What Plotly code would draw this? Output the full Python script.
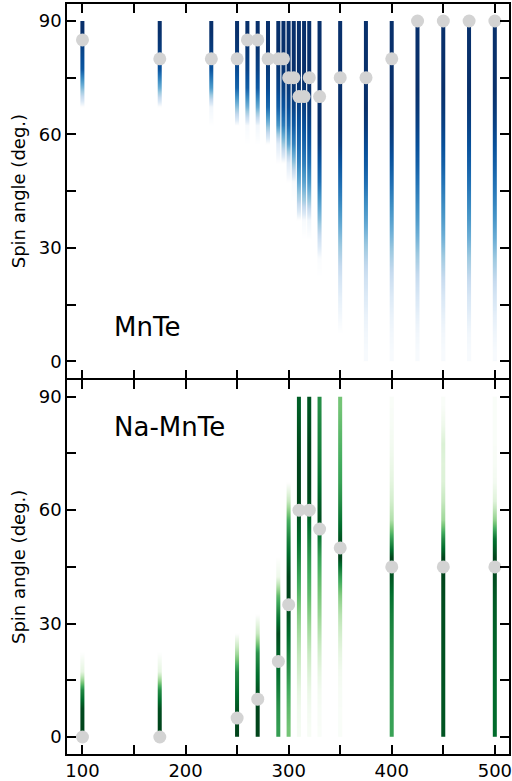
import plotly.graph_objects as go
from plotly.subplots import make_subplots

# Spin-angle bins (degrees): 18 bins of 5 deg between 0 and 90
angle_edges = list(range(0, 95, 5))

# ---- MnTe -------------------------------------------------------------
mnte_temps = [100, 175, 225, 250, 260, 270, 280, 290, 295, 300, 305,
              310, 315, 320, 330, 350, 375, 400, 425, 450, 475, 500]
mnte_mean_angle = [85, 80, 80, 80, 85, 85, 80, 80, 80, 75, 75,
                   70, 70, 75, 70, 75, 75, 80, 90, 90, 90, 90]
# relative probability per angle bin (bins ordered 0 -> 90 deg), one row per temperature
mnte_density = [
    [0]*13 + [0.00, 0.45, 0.85, 0.92, 1.00],                                  # 100 K
    [0]*13 + [0.00, 0.50, 0.87, 0.95, 1.00],                                  # 175 K
    [0]*13 + [0.05, 0.58, 0.87, 0.95, 1.00],                                  # 225 K
    [0]*12 + [0.00, 0.42, 0.80, 0.90, 0.97, 1.00],                            # 250 K
    [0]*12 + [0.03, 0.48, 0.82, 0.92, 0.97, 1.00],                            # 260 K
    [0]*12 + [0.05, 0.52, 0.84, 0.93, 0.98, 1.00],                            # 270 K
    [0]*11 + [0.00, 0.42, 0.78, 0.90, 0.96, 1.00, 1.00],                      # 280 K
    [0]*10 + [0.00, 0.12, 0.60, 0.82, 0.92, 0.97, 1.00, 1.00],                # 290 K
    [0]*10 + [0.00, 0.38, 0.70, 0.86, 0.94, 0.98, 1.00, 1.00],                # 295 K
    [0]*9 + [0.00, 0.12, 0.55, 0.78, 0.90, 0.96, 1.00, 1.00, 1.00],           # 300 K
    [0]*9 + [0.03, 0.40, 0.68, 0.84, 0.93, 0.98, 1.00, 1.00, 1.00],           # 305 K
    [0]*7 + [0.00, 0.30, 0.52, 0.68, 0.78, 0.86, 0.93, 0.98, 1.00, 1.00, 1.00],  # 310 K
    [0]*7 + [0.03, 0.35, 0.55, 0.70, 0.80, 0.88, 0.94, 0.98, 1.00, 1.00, 1.00],  # 315 K
    [0]*6 + [0.00, 0.06, 0.38, 0.60, 0.75, 0.85, 0.92, 0.97, 1.00, 1.00, 1.00, 1.00],  # 320 K
    [0]*5 + [0.02, 0.20, 0.42, 0.58, 0.75, 0.85, 0.95, 1.00, 1.00, 1.00, 1.00, 1.00, 1.00],  # 330 K
    [0.00, 0.00, 0.05, 0.10, 0.18, 0.30, 0.42, 0.55, 0.67, 0.77, 0.86, 0.95, 1, 1, 1, 1, 1, 1],  # 350 K
    [0.03, 0.05, 0.08, 0.13, 0.20, 0.30, 0.42, 0.55, 0.65, 0.76, 0.84, 0.90, 0.96, 1, 1, 1, 1, 1],  # 375 K
    [0.03, 0.05, 0.08, 0.13, 0.22, 0.33, 0.45, 0.56, 0.66, 0.76, 0.85, 0.92, 0.97, 1, 1, 1, 1, 1],  # 400 K
    [0.03, 0.05, 0.09, 0.15, 0.24, 0.35, 0.47, 0.58, 0.66, 0.74, 0.82, 0.88, 0.93, 0.97, 1, 1, 1, 1],  # 425 K
    [0.03, 0.05, 0.09, 0.15, 0.25, 0.36, 0.48, 0.58, 0.66, 0.74, 0.82, 0.88, 0.93, 0.97, 1, 1, 1, 1],  # 450 K
    [0.03, 0.05, 0.10, 0.16, 0.26, 0.37, 0.49, 0.59, 0.67, 0.75, 0.82, 0.88, 0.93, 0.97, 1, 1, 1, 1],  # 475 K
    [0.03, 0.06, 0.10, 0.17, 0.27, 0.38, 0.50, 0.60, 0.68, 0.75, 0.82, 0.88, 0.93, 0.97, 1, 1, 1, 1],  # 500 K
]

# ---- Na-doped MnTe ----------------------------------------------------
namnte_temps = [100, 175, 250, 270, 290, 300, 310, 320, 330, 350, 400, 450, 500]
namnte_mean_angle = [0, 0, 5, 10, 20, 35, 60, 60, 55, 50, 45, 45, 45]
namnte_density = [
    [1.00, 0.98, 0.76, 0.12] + [0]*14,                                        # 100 K
    [1.00, 0.97, 0.74, 0.12] + [0]*14,                                        # 175 K
    [1.00, 0.95, 0.85, 0.75, 0.35, 0.00] + [0]*12,                            # 250 K
    [1.00, 1.00, 0.95, 0.85, 0.72, 0.25, 0.00] + [0]*11,                      # 270 K
    [0.68, 0.72, 0.80, 0.87, 0.92, 0.98, 0.80, 0.55, 0.08, 0.00] + [0]*8,     # 290 K
    [0.50, 0.55, 0.62, 0.72, 0.80, 0.88, 0.95, 1.00, 1.00, 0.90, 0.78, 0.60, 0.25, 0.00] + [0]*4,  # 300 K
    [0.05, 0.07, 0.12, 0.20, 0.27, 0.36, 0.45, 0.56, 0.66, 0.78, 0.88, 0.95, 1.00, 1.00, 1.00, 0.98, 0.95, 0.92],  # 310 K
    [0.04, 0.06, 0.10, 0.17, 0.25, 0.35, 0.45, 0.55, 0.62, 0.70, 0.80, 0.90, 0.97, 1.00, 1.00, 1.00, 0.97, 0.95],  # 320 K
    [0.03, 0.04, 0.06, 0.12, 0.20, 0.30, 0.40, 0.48, 0.56, 0.66, 0.82, 0.97, 0.92, 0.86, 0.82, 0.79, 0.77, 0.74],  # 330 K
    [0.03, 0.03, 0.04, 0.06, 0.12, 0.20, 0.30, 0.45, 0.68, 1.00, 0.95, 0.84, 0.74, 0.66, 0.62, 0.58, 0.54, 0.50],  # 350 K
    [0.66, 0.67, 0.68, 0.70, 0.73, 0.76, 0.80, 0.86, 0.95, 1.00, 0.68, 0.32, 0.20, 0.13, 0.09, 0.06, 0.04, 0.03],  # 400 K
    [0.95, 0.95, 0.95, 0.96, 0.96, 0.97, 0.97, 0.98, 1.00, 1.00, 0.75, 0.38, 0.25, 0.16, 0.15, 0.17, 0.08, 0.03],  # 450 K
    [0.88, 0.88, 0.88, 0.89, 0.90, 0.91, 0.92, 0.94, 0.98, 1.00, 0.85, 0.42, 0.15, 0.06, 0.04, 0.03, 0.03, 0.03],  # 500 K
]

x_tickvals = [100, 150, 200, 250, 300, 350, 400, 450, 500]
x_ticktext = ["100", "", "200", "", "300", "", "400", "", "500"]
y_tickvals = [0, 15, 30, 45, 60, 75, 90]
y_ticktext = ["0", "", "30", "", "60", "", "90"]

BLUES = [[0.0, "#ffffff"], [0.125, "#deebf7"], [0.25, "#c6dbef"], [0.375, "#9ecae1"],
         [0.5, "#6baed6"], [0.625, "#4292c6"], [0.75, "#2171b5"], [0.875, "#08519c"],
         [1.0, "#08306b"]]
GREENS = [[0.0, "#ffffff"], [0.125, "#e5f5e0"], [0.25, "#c7e9c0"], [0.375, "#a1d99b"],
          [0.5, "#74c476"], [0.625, "#41ab5d"], [0.75, "#238b45"], [0.875, "#006d2c"],
          [1.0, "#00441b"]]

FONT = "DejaVu Sans"
HALF_WIDTH = 1.0   # half spacing of the two heatmap columns (temperature units)
LINE_W = 1.5
PLOT_H = 781 - 4 - 27
GAP = (LINE_W / 2) / PLOT_H   # lets the shared frame lines of both panels coincide

fig = make_subplots(rows=2, cols=1, shared_xaxes=True, vertical_spacing=0)


def add_panel(row, temps, means, density, cscale):
    for t, prof in zip(temps, density):
        fig.add_trace(
            go.Heatmap(
                x=[t - HALF_WIDTH, t + HALF_WIDTH],
                y=angle_edges,
                z=[[v, v] for v in prof],
                zmin=0, zmax=1,
                colorscale=cscale,
                zsmooth="best",
                showscale=False,
                hoverinfo="skip",
            ),
            row=row, col=1,
        )
    fig.add_trace(
        go.Scatter(
            x=temps, y=means, mode="markers",
            marker=dict(size=13, color="#d3d3d3", line=dict(width=0)),
            showlegend=False,
        ),
        row=row, col=1,
    )


add_panel(1, mnte_temps, mnte_mean_angle, mnte_density, BLUES)
add_panel(2, namnte_temps, namnte_mean_angle, namnte_density, GREENS)

axis_common = dict(
    showline=True, linecolor="black", linewidth=LINE_W, mirror="ticks",
    ticks="inside", ticklen=9, tickwidth=1.5, tickcolor="black",
    showgrid=False, zeroline=False, automargin=False,
    ticklabeloverflow="allow",
    tickfont=dict(family=FONT, size=18, color="black"),
)

for r in (1, 2):
    fig.update_xaxes(range=[85, 513.7], tickvals=x_tickvals, ticktext=x_ticktext,
                     row=r, col=1, **axis_common)
    fig.update_yaxes(range=[-4.5, 94.5], tickvals=y_tickvals, ticktext=y_ticktext,
                     title=dict(text="Spin angle (deg.)", font=dict(family=FONT, size=18, color="black"),
                                standoff=8),
                     row=r, col=1, **axis_common)

fig.update_xaxes(showticklabels=False, row=1, col=1)
fig.update_yaxes(domain=[0.5 + GAP, 1.0], row=1, col=1)
fig.update_yaxes(domain=[0.0, 0.5 - GAP], row=2, col=1)

fig.add_annotation(text="MnTe", x=129, y=9, xref="x", yref="y", xanchor="left", yanchor="middle",
                   showarrow=False, font=dict(family=FONT, size=26, color="black"))
fig.add_annotation(text="Na-MnTe", x=129, y=82, xref="x2", yref="y2", xanchor="left", yanchor="middle",
                   showarrow=False, font=dict(family=FONT, size=26, color="black"))

fig.update_layout(
    width=512, height=781,
    margin=dict(l=67, r=3, t=4, b=27, autoexpand=False),
    paper_bgcolor="white", plot_bgcolor="white",
    showlegend=False,
    font=dict(family=FONT, color="black"),
)

fig.write_html("out.html")
